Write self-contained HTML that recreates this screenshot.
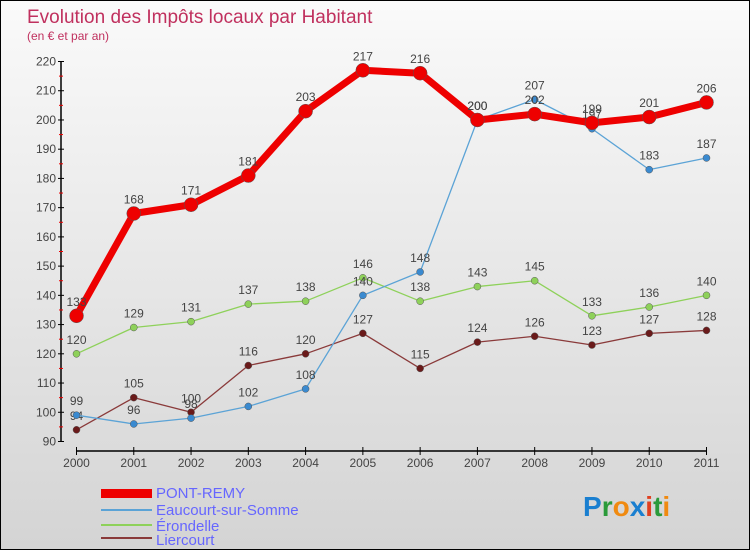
<!DOCTYPE html>
<html><head><meta charset="utf-8"><style>
body{margin:0}
#c{width:750px;height:550px;position:relative;box-sizing:border-box;border:1px solid #000;background:linear-gradient(#fafafa,#d4d4d4);font-family:"Liberation Sans",sans-serif;overflow:hidden}
</style></head><body>
<div id="c">
<svg id="s" width="750" height="550" style="position:absolute;left:0;top:0">
<text x="26" y="22" font-size="19" fill="#c0305e">Evolution des Impôts locaux par Habitant</text>
<text x="26" y="39" font-size="12" fill="#c0305e">(en € et par an)</text>
<g id="axes"></g><g id="series"></g>
<g>
<rect x="100" y="488" width="51" height="9" fill="#e00"/>
<text x="155" y="497" font-size="15" fill="#6666ff">PONT-REMY</text>
<line x1="100" y1="509" x2="151" y2="509" stroke="#5ba3d6" stroke-width="2"/>
<text x="155" y="514" font-size="15" fill="#6666ff">Eaucourt-sur-Somme</text>
<line x1="100" y1="524" x2="151" y2="524" stroke="#8ed15a" stroke-width="2"/>
<text x="155" y="530" font-size="15" fill="#6666ff">Érondelle</text>
<line x1="100" y1="537" x2="151" y2="537" stroke="#8a3a3a" stroke-width="2"/>
<text x="155" y="544" font-size="15" fill="#6666ff">Liercourt</text>
</g>
<text x="582" y="515" font-size="28" font-weight="bold"><tspan fill="#1a7fd0">P</tspan><tspan fill="#2a9a3a">r</tspan><tspan fill="#f08a10">o</tspan><tspan fill="#1a7fd0">x</tspan><tspan fill="#e04020">i</tspan><tspan fill="#2a9a3a">t</tspan><tspan fill="#f08a10">i</tspan></text>
</svg>
</div>
<script>
const years=["2000","2001","2002","2003","2004","2005","2006","2007","2008","2009","2010","2011"];
const yTicks=[90,100,110,120,130,140,150,160,170,180,190,200,210,220];
const pontRemy=[133,168,171,181,203,217,216,200,202,199,201,206];
const eaucourt=[99,96,98,102,108,140,148,200,207,197,183,187];
const erondelle=[120,129,131,137,138,146,138,143,145,133,136,140];
const liercourt=[94,105,100,116,120,127,115,124,126,123,127,128];
const NS="http://www.w3.org/2000/svg";
const X=i=>75.5+i*(705.5-75.5)/11;
const Y=v=>440.5-(v-90)*(440.5-60.5)/130;
function mk(t,a,p){const e=document.createElementNS(NS,t);for(const k in a)e.setAttribute(k,a[k]);p.appendChild(e);return e;}
const ax=document.getElementById('axes'),sg=document.getElementById('series');
let l=mk('line',{x1:60,y1:Y(220),x2:60,y2:Y(90),stroke:'#000','stroke-width':1.5},ax);


yTicks.forEach((v,i)=>{
 mk('line',{x1:57,y1:Y(v),x2:63,y2:Y(v),stroke:'#000'},ax);
 if(i<yTicks.length-1)mk('line',{x1:58,y1:Y(v+5),x2:62,y2:Y(v+5),stroke:'#e00'},ax);
 const t=mk('text',{x:55,y:Y(v)+4,'font-size':12,fill:'#444','text-anchor':'end'},ax);t.textContent=v;
 
 
});
l=mk('line',{x1:X(0),y1:450,x2:X(11),y2:450,stroke:'#000','stroke-width':1.5},ax);


years.forEach((y,i)=>{
 mk('line',{x1:X(i),y1:446,x2:X(i),y2:454,stroke:'#000'},ax);
 const t=mk('text',{x:X(i),y:466,'font-size':12,fill:'#444','text-anchor':'middle'},ax);t.textContent=y;
 
 
});
function series(d,col,w,r,name,dot){
 const g=mk('g',{},sg);
 
 
 mk('polyline',{points:d.map((v,i)=>X(i)+','+Y(v)).join(' '),fill:'none',stroke:col,'stroke-width':w,'stroke-linejoin':'round'},g);
 d.forEach((v,i)=>{
  const c=mk('circle',{cx:X(i),cy:Y(v),r:r,fill:dot,stroke:'#555','stroke-width':0.5},g);
  
  
  const t=mk('text',{x:X(i),y:Y(v)-10,'font-size':12,fill:'#444','text-anchor':'middle'},g);t.textContent=v;
  
  
 });
}
series(liercourt,'#8a3a3a',1.3,3.5,'liercourt','#6a1a1a');
series(erondelle,'#8ed15a',1.3,3.5,'erondelle','#8ed15a');
series(eaucourt,'#5ba3d6',1.3,3.5,'eaucourt','#3a8ad0');
series(pontRemy,'#ee0000',7,7,'pont-remy','#ee0000');
</script>
</body></html>
